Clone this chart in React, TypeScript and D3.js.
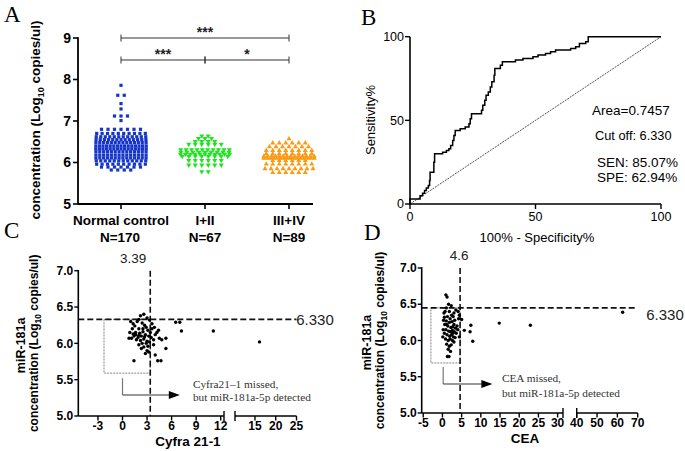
import React from "react";
import * as d3 from "d3";

// ---- panel A data (value levels, counts per level)
const categories = ["Normal control", "I+II", "III+IV"];
const groupN = ["N=170", "N=67", "N=89"];

const normalLevels = [5.82, 5.89, 5.96, 6.04, 6.11, 6.18, 6.26, 6.33, 6.40, 6.48, 6.55, 6.62, 6.70, 6.80, 7.01, 7.12, 7.29, 7.42, 7.62, 7.86];
const normalCounts = [4, 7, 10, 12, 14, 14, 14, 15, 15, 14, 13, 12, 10, 7, 1, 3, 1, 1, 2, 1];

const stage12Levels = [5.78, 5.94, 6.05, 6.15, 6.20, 6.25, 6.31, 6.44, 6.51, 6.58, 6.64];
const stage12Counts = [2, 6, 6, 8, 11, 9, 10, 6, 4, 3, 2];

const stage34Levels = [5.76, 5.85, 5.96, 6.05, 6.10, 6.15, 6.21, 6.29, 6.38, 6.47, 6.57];
const stage34Counts = [6, 9, 8, 6, 16, 14, 8, 8, 7, 6, 1];

const brackets = [
  { from: 0, to: 2, level: 9, label: "***", labelAt: 1 },
  { from: 0, to: 1, level: 8.47, label: "***", labelAt: 0.5 },
  { from: 1, to: 2, level: 8.47, label: "*", labelAt: 1.5 },
];

// ---- panel B: ROC curve (100% - specificity, sensitivity)
const rocFpr = [0, 0, 3.5, 4, 5, 5.8, 6.5, 7.3, 7.8, 8, 9.3, 9.5, 9.8, 12, 13, 14.5, 15.5, 16.2, 17, 17.5, 18, 20, 22, 23.5, 24, 24.5, 27.5, 28.5, 29, 29.8, 30.3, 31.2, 32, 32.6, 33.5, 33.8, 35.5, 36, 36.8, 41, 42, 44, 45, 48, 49, 51, 54, 56, 58, 63, 64, 66, 67.5, 70, 71, 100];
const rocTpr = [0, 3, 3, 5, 6.5, 8, 9.5, 11, 14, 19, 19, 25, 30, 30, 31, 32, 33, 35, 38, 41, 44, 45, 46, 48, 51, 54, 54, 56, 59, 62, 65, 67, 70, 73, 77, 81, 81, 83, 85, 85, 86, 86, 87, 87, 88, 89, 90, 91, 92, 92, 93, 94, 96, 97, 100, 100];
const rocTicks = [0, 50, 100];
const rocNotes = ["Area=0.7457", "Cut off: 6.330", "SEN: 85.07%", "SPE: 62.94%"];

// ---- panel C: Cyfra 21-1 vs miR-181a
const cyfraX = [2.2, 2.6, 2.0, 3.0, 1.0, 1.3, 1.8, 2.4, 3.3, 3.6, 1.5, 2.7, 3.9, 4.4, 4.0, 1.2, 2.0, 2.9, 0.9, 1.6, 2.1, 2.5, 3.1, 3.4, 1.4, 1.9, 2.3, 2.8, 3.2, 1.1, 1.7, 2.2, 2.6, 3.0, 3.5, 0.8, 2.4, 2.9, 3.3, 2.0, 2.6, 3.1, 3.8, 2.3, 3.0, 2.8, 3.2, 4.0, 4.3, 4.7, 1.4, 5.3, 5.3, 4.5, 3.8, 1.6, 2.0, 2.7, 1.3, 2.5, 3.6, 4.2, 4.8, 6.5, 7.0, 7.2, 11.1, 16.1];
const cyfraY = [6.38, 6.40, 6.33, 6.35, 6.30, 6.27, 6.30, 6.28, 6.32, 6.27, 6.24, 6.25, 6.22, 6.18, 6.12, 6.20, 6.20, 6.22, 6.15, 6.12, 6.14, 6.16, 6.18, 6.15, 6.10, 6.08, 6.10, 6.12, 6.10, 6.07, 6.05, 6.04, 6.06, 6.03, 6.08, 6.07, 6.00, 6.00, 6.02, 5.98, 5.95, 5.96, 5.98, 5.93, 5.90, 5.86, 5.88, 5.84, 5.76, 5.76, 5.76, 5.93, 6.07, 6.07, 6.05, 6.15, 6.11, 6.09, 6.13, 6.20, 6.20, 6.15, 6.05, 6.29, 6.29, 6.17, 6.17, 6.02];

// ---- panel D: CEA vs miR-181a
const ceaX = [0.9, 1.2, 1.6, 1.0, 2.3, 3.5, 4.1, 4.2, 0.5, 1.3, 2.0, 2.8, 3.2, 0.3, 1.0, 1.8, 2.5, 3.0, 3.8, 0.6, 1.4, 2.2, 2.7, 3.4, 4.0, 0.2, 0.9, 1.6, 2.1, 2.6, 3.1, 3.6, 0.5, 1.2, 1.9, 2.4, 2.9, 3.3, 0.1, 0.8, 1.5, 2.0, 2.6, 3.0, 4.4, 1.1, 1.8, 2.3, 1.5, 2.1, 1.3, 1.7, 0.4, 1.8, 3.0, 4.4, 2.7, 1.1, 2.4, 0.7, 5.0, 5.7, 7.4, 7.2, 7.9, 14.8, 22.9, 62.6];
const ceaY = [6.63, 6.60, 6.50, 6.45, 6.48, 6.42, 6.40, 6.30, 6.32, 6.33, 6.30, 6.33, 6.28, 6.28, 6.27, 6.25, 6.26, 6.22, 6.20, 6.22, 6.20, 6.18, 6.19, 6.17, 6.15, 6.15, 6.15, 6.13, 6.12, 6.14, 6.12, 6.10, 6.10, 6.08, 6.06, 6.08, 6.05, 6.04, 6.05, 6.02, 6.00, 6.02, 6.00, 5.98, 6.05, 5.95, 5.92, 5.94, 5.88, 5.85, 5.78, 5.78, 6.38, 6.40, 6.38, 6.35, 6.10, 6.22, 6.35, 6.40, 6.29, 6.14, 6.21, 6.12, 5.99, 6.24, 6.21, 6.39];

const miTicks = [5.0, 5.5, 6.0, 6.5, 7.0];

const sans = "'Liberation Sans', Arial, Helvetica, sans-serif";
const serif = "'Liberation Serif', 'Times New Roman', serif";
const blue = "#1535c9";
const green = "#1fe31f";
const orange = "#fb9a14";

function PanelA() {
  const x = d3.scalePoint<string>().domain(categories).range([121, 289]);
  const y = d3.scaleLinear().domain([5, 9]).range([204, 38]);
  const groups = [
    { levels: normalLevels, counts: normalCounts, color: blue, kind: "square" },
    { levels: stage12Levels, counts: stage12Counts, color: green, kind: "down" },
    { levels: stage34Levels, counts: stage34Counts, color: orange, kind: "up" },
  ];
  const tri = d3.symbol().type(d3.symbolTriangle).size(11)() as string;
  const pts: { cx: number; cy: number; color: string; kind: string }[] = [];
  groups.forEach((g, gi) => {
    const cx0 = x(categories[gi]) as number;
    g.levels.forEach((v, i) => {
      const c = g.counts[i];
      const sp = Math.min(6.5, 54 / c);
      for (let j = 0; j < c; j++) {
        pts.push({ cx: cx0 + (j - (c - 1) / 2) * sp, cy: y(v), color: g.color, kind: g.kind });
      }
    });
  });
  const idx = (i: number) => x(categories[i]) as number;
  return (
    <g>
      <text x={4} y={22} fontFamily={serif} fontSize={23}>A</text>
      <g fontFamily={sans} fontWeight="bold" fontSize={14}>
        {[5, 6, 7, 8, 9].map(t => (
          <g key={t}>
            <line x1={73} x2={78} y1={y(t)} y2={y(t)} stroke="#000" strokeWidth={1.6} />
            <text x={71} y={y(t)} dy="0.35em" textAnchor="end">{t}</text>
          </g>
        ))}
      </g>
      <line x1={78} x2={78} y1={y(9) - 0.8} y2={y(5)} stroke="#000" strokeWidth={1.8} />
      <line x1={78} x2={313} y1={y(5)} y2={y(5)} stroke="#000" strokeWidth={1.8} />
      {categories.map((c, i) => (
        <g key={c} fontFamily={sans} fontWeight="bold" fontSize={13.5} textAnchor="middle">
          <line x1={x(c)} x2={x(c)} y1={y(5)} y2={y(5) + 5} stroke="#000" strokeWidth={1.6} />
          <text x={x(c)} y={225}>{c}</text>
          <text x={(x(c) as number) - (i === 0 ? 1 : 0)} y={242}>{groupN[i]}</text>
        </g>
      ))}
      <text transform="translate(39.5,120) rotate(-90)" fontFamily={sans} fontWeight="bold" fontSize={13.5} textAnchor="middle">
        concentration (Log<tspan fontSize={9} dy={4}>10</tspan><tspan dy={-4}> copies/ul)</tspan>
      </text>
      {pts.map((p, i) =>
        p.kind === "square" ? (
          <rect key={i} x={p.cx - 1.6} y={p.cy - 1.6} width={3.2} height={3.2} fill={p.color} />
        ) : (
          <path key={i} d={tri} transform={`translate(${p.cx},${p.cy}) rotate(${p.kind === "down" ? 180 : 0})`} fill={p.color} />
        )
      )}
      {brackets.map((b, i) => {
        const yy = y(b.level);
        return (
          <g key={i} stroke="#333" strokeWidth={1}>
            <line x1={idx(b.from)} x2={idx(b.to)} y1={yy} y2={yy} />
            <line x1={idx(b.from)} x2={idx(b.from)} y1={yy - 3.5} y2={yy + 3.5} />
            <line x1={idx(b.to)} x2={idx(b.to)} y1={yy - 3.5} y2={yy + 3.5} />
            <text x={idx(0) + (idx(1) - idx(0)) * b.labelAt} y={yy - 1} stroke="none" fill="#222" fontFamily={sans} fontWeight="bold" fontSize={14} textAnchor="middle">{b.label}</text>
          </g>
        );
      })}
    </g>
  );
}

function PanelB() {
  const x = d3.scaleLinear().domain([0, 100]).range([410, 661]);
  const y = d3.scaleLinear().domain([0, 100]).range([204, 36.7]);
  const line = d3.line<number>().x(i => x(rocFpr[i])).y(i => y(rocTpr[i])).curve(d3.curveStepAfter);
  const path = line(rocFpr.map((_, i) => i)) as string;
  const noteY = [115, 140, 167, 181.5];
  const noteX = [592, 595, 597, 597];
  return (
    <g fontFamily={sans}>
      <text x={361} y={25} fontFamily={serif} fontSize={23}>B</text>
      <line x1={x(0)} x2={x(100)} y1={y(0)} y2={y(100)} stroke="#222" strokeWidth={0.8} strokeDasharray="2,1" />
      <path d={path} fill="none" stroke="#000" strokeWidth={1.5} />
      <line x1={x(0)} x2={x(0)} y1={y(100)} y2={y(0) + 1} stroke="#000" strokeWidth={1.6} />
      <line x1={x(0)} x2={x(100)} y1={y(0)} y2={y(0)} stroke="#000" strokeWidth={1.6} />
      {rocTicks.map(t => (
        <g key={t} fontSize={12.5}>
          <line x1={x(0) - 5} x2={x(0)} y1={y(t)} y2={y(t)} stroke="#000" strokeWidth={1.4} />
          <text x={x(0) - 6} y={y(t)} dy="0.35em" textAnchor="end">{t}</text>
          <line x1={x(t)} x2={x(t)} y1={y(0)} y2={y(0) + 5} stroke="#000" strokeWidth={1.4} />
          <text x={x(t)} y={y(0) + 13} dy="0.35em" textAnchor="middle">{t}</text>
        </g>
      ))}
      <text transform="translate(374.5,120) rotate(-90)" fontSize={13} textAnchor="middle">Sensitivity%</text>
      <text x={537} y={241.5} fontSize={13} textAnchor="middle">100% - Specificity%</text>
      {rocNotes.map((n, i) => (
        <text key={n} x={noteX[i]} y={noteY[i]} fontSize={i === 1 ? 12.8 : 13.5}>{n}</text>
      ))}
    </g>
  );
}

interface ScatterProps {
  letter: string;
  letterX: number;
  xs: number[];
  ys: number[];
  yRange: [number, number];
  axisX: number;
  seg1: { domain: [number, number]; range: [number, number]; ticks: number[] };
  seg2: { domain: [number, number]; range: [number, number]; ticks: number[] };
  cutX: number;
  cutLabel: string;
  cutLabelDx: number;
  cutY: number;
  cutYLabelPos: [number, number];
  boxLeft: number;
  boxBottom: number;
  arrowX: number;
  arrowY: [number, number];
  arrowEnd: number;
  notes: string[];
  noteX: number;
  noteY: number[];
  xTitle: string;
  xTitleX: number;
  titleX: [number, number];
}

function ScatterPanel(p: ScatterProps) {
  const y = d3.scaleLinear().domain([5, 7]).range(p.yRange);
  const x1 = d3.scaleLinear().domain(p.seg1.domain).range(p.seg1.range);
  const x2 = d3.scaleLinear().domain(p.seg2.domain).range(p.seg2.range);
  const xv = (v: number) => (v <= p.seg1.domain[1] ? x1(v) : x2(v));
  const base = y(5);
  const top = y(7);
  const midY = (base + top) / 2;
  const ax = p.arrowX;
  return (
    <g fontFamily={sans}>
      <text x={p.letterX} y={238 + (p.letter === "D" ? 2 : 0)} fontFamily={serif} fontSize={23}>{p.letter}</text>
      {/* y axis */}
      <line x1={p.axisX} x2={p.axisX} y1={top - 0.8} y2={base} stroke="#000" strokeWidth={1.6} />
      {miTicks.map(t => (
        <g key={t}>
          <line x1={p.axisX - 4} x2={p.axisX} y1={y(t)} y2={y(t)} stroke="#000" strokeWidth={1.4} />
          <text x={p.axisX - 5} y={y(t)} dy="0.35em" textAnchor="end" fontWeight="bold" fontSize={12}>{d3.format(".1f")(t)}</text>
        </g>
      ))}
      {/* broken x axis */}
      <line x1={p.axisX} x2={p.seg1.range[1]} y1={base} y2={base} stroke="#000" strokeWidth={1.6} />
      <line x1={p.seg2.range[0]} x2={p.seg2.range[1]} y1={base} y2={base} stroke="#000" strokeWidth={1.6} />
      <line x1={p.seg1.range[1]} x2={p.seg1.range[1]} y1={base - 5} y2={base + 5} stroke="#000" strokeWidth={1.4} />
      <line x1={p.seg2.range[0]} x2={p.seg2.range[0]} y1={base - 5} y2={base + 5} stroke="#000" strokeWidth={1.4} />
      {[...p.seg1.ticks.map(t => ({ t, px: x1(t) })), ...p.seg2.ticks.map(t => ({ t, px: x2(t) }))].map(({ t, px }) => (
        <g key={t}>
          <line x1={px} x2={px} y1={base} y2={base + 4.5} stroke="#000" strokeWidth={1.4} />
          <text x={px} y={base + 14} textAnchor="middle" fontWeight="bold" fontSize={12}>{t}</text>
        </g>
      ))}
      <text x={p.xTitleX} y={base + 30} textAnchor="middle" fontWeight="bold" fontSize={13.5}>{p.xTitle}</text>
      <text transform={`translate(${p.titleX[0]},${midY + 2}) rotate(-90)`} textAnchor="middle" fontWeight="bold" fontSize={12.5}>miR-181a</text>
      <text transform={`translate(${p.titleX[1]},${midY}) rotate(-90)`} textAnchor="middle" fontWeight="bold" fontSize={12}>
        concentration (Log<tspan fontSize={8.5} dy={3.5}>10</tspan><tspan dy={-3.5}> copies/ul)</tspan>
      </text>
      {/* missed box */}
      <rect x={x1(p.boxLeft)} y={y(p.cutY)} width={x1(p.cutX) - x1(p.boxLeft)} height={y(p.boxBottom) - y(p.cutY)} fill="none" stroke="#777" strokeWidth={0.9} strokeDasharray="2,1" />
      {/* cut-off lines */}
      <line x1={x1(p.cutX)} x2={x1(p.cutX)} y1={top} y2={base} stroke="#111" strokeWidth={1.6} strokeDasharray="6,3" />
      <line x1={p.axisX} x2={p.seg2.range[1]} y1={y(p.cutY)} y2={y(p.cutY)} stroke="#111" strokeWidth={1.6} strokeDasharray="6,3" />
      <text x={x1(p.cutX) + p.cutLabelDx} y={top - 8} textAnchor="middle" fontSize={13.5} fill="#222">{p.cutLabel}</text>
      <text x={p.cutYLabelPos[0]} y={p.cutYLabelPos[1]} textAnchor="middle" fontSize={15} fill="#222">6.330</text>
      {p.xs.map((v, i) => (
        <circle key={i} cx={xv(v)} cy={y(p.ys[i])} r={1.7} fill="#000" />
      ))}
      {/* arrow */}
      <line x1={x1(ax)} x2={x1(ax)} y1={y(p.arrowY[0])} y2={y(p.arrowY[1])} stroke="#777" strokeWidth={1.2} />
      <line x1={x1(ax)} x2={x1(p.arrowEnd) - 8} y1={y(p.arrowY[1])} y2={y(p.arrowY[1])} stroke="#333" strokeWidth={1.1} />
      <path d={`M${x1(p.arrowEnd)},${y(p.arrowY[1])} l-11,-4 l0,8 z`} fill="#000" />
      {p.notes.map((n, i) => (
        <text key={n} x={x1(p.noteX)} y={y(p.noteY[i])} fontFamily={serif} fontSize={11.3} fill="#333">{n}</text>
      ))}
    </g>
  );
}

export default function App() {
  return (
    <svg width={685} height={451} viewBox="0 0 685 451" style={{ position: "absolute", left: 0, top: 0, background: "#fff" }}>
      <rect width={685} height={451} fill="#fff" />
      <PanelA />
      <PanelB />
      <ScatterPanel
        letter="C" letterX={4}
        xs={cyfraX} ys={cyfraY} yRange={[416, 270.7]} axisX={78.3}
        seg1={{ domain: [-5.4, 12.4], range: [78.3, 224], ticks: [-3, 0, 3, 6, 9, 12] }}
        seg2={{ domain: [10.2, 25], range: [235, 296.5], ticks: [15, 20, 25] }}
        cutX={3.39} cutLabel="3.39" cutLabelDx={-17} cutY={6.33} cutYLabelPos={[315, 325]}
        boxLeft={-2.26} boxBottom={5.59}
        arrowX={0} arrowY={[5.52, 5.29]} arrowEnd={7.0}
        notes={["Cyfra21\u20131 missed,", "but miR-181a-5p detected"]} noteX={8.6} noteY={[5.39, 5.205]}
        xTitle="Cyfra 21-1" xTitleX={188} titleX={[24.5, 37.5]}
      />
      <ScatterPanel
        letter="D" letterX={364}
        xs={ceaX} ys={ceaY} yRange={[413, 268]} axisX={421.7}
        seg1={{ domain: [-5.4, 31.4], range: [421.7, 563], ticks: [-5, 0, 5, 10, 15, 20, 25, 30] }}
        seg2={{ domain: [40, 70], range: [576.7, 637.7], ticks: [40, 50, 60, 70] }}
        cutX={4.6} cutLabel="4.6" cutLabelDx={-1} cutY={6.45} cutYLabelPos={[665, 320]}
        boxLeft={-3} boxBottom={5.69}
        arrowX={0.2} arrowY={[5.634, 5.4]} arrowEnd={13}
        notes={["CEA missed,", "but miR-181a-5p detected"]} noteX={15.5} noteY={[5.43, 5.225]}
        xTitle="CEA" xTitleX={525} titleX={[371, 383.5]}
      />
    </svg>
  );
}
